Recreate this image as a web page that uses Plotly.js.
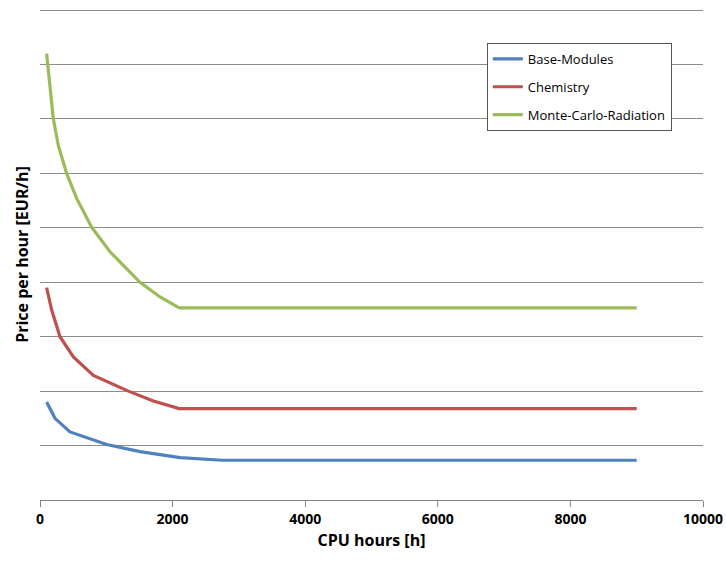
<!DOCTYPE html>
<html>
<head>
<meta charset="utf-8">
<script src="https://cdn.plot.ly/plotly-3.0.1.min.js"></script>
<style>html,body{margin:0;padding:0;background:#fff;}#chart{width:726px;height:565px;}</style>
</head>
<body>
<div id="chart"></div>
<script>
// Data (arbitrary price units, y axis unlabeled)
const seriesNames = ["Base-Modules", "Chemistry", "Monte-Carlo-Radiation"];

const baseX = [100, 226, 453, 1006, 1509, 2113, 2750, 9000];
const baseY = [1.80, 1.50, 1.25, 1.02, 0.89, 0.78, 0.73, 0.73];

const chemX = [100, 176, 302, 503, 805, 1333, 1710, 2100, 9000];
const chemY = [3.90, 3.49, 3.00, 2.63, 2.29, 2.00, 1.82, 1.68, 1.68];

const mcX = [100, 151, 201, 277, 402, 553, 780, 1056, 1509, 1811, 2100, 9000];
const mcY = [8.20, 7.61, 7.00, 6.51, 6.00, 5.54, 5.01, 4.56, 4.00, 3.73, 3.53, 3.53];

const xTicks = [0, 2000, 4000, 6000, 8000, 10000];

const colors = ["#4F81BD", "#C0504D", "#9BBB59"];
const xs = [baseX, chemX, mcX];
const ys = [baseY, chemY, mcY];

const traces = seriesNames.map((n, i) => ({
  type: "scatter",
  mode: "lines",
  name: n,
  legendgroup: "g" + i,
  x: xs[i],
  y: ys[i],
  line: {color: colors[i], width: 3.2, shape: "linear"}
}));

const layout = {
  width: 726,
  height: 565,
  margin: {l: 40, r: 23, t: 9, b: 65},
  paper_bgcolor: "#fff",
  plot_bgcolor: "#fff",
  font: {family: "Open Sans, Liberation Sans, sans-serif", color: "#000"},
  showlegend: true,
  legend: {
    x: 0.674, y: 0.931, xanchor: "left", yanchor: "top",
    bgcolor: "#fff", bordercolor: "#555", borderwidth: 1,
    font: {size: 13, family: "Open Sans, sans-serif", color: "#000"},
    traceorder: "grouped", tracegroupgap: 8, itemwidth: 30
  },
  xaxis: {
    range: [0, 10000],
    tickvals: xTicks,
    ticktext: xTicks.map(String),
    ticks: "outside", ticklen: 6, tickcolor: "#868686", tickwidth: 1,
    showline: true, linecolor: "#868686", linewidth: 1,
    showgrid: false, zeroline: false,
    tickfont: {size: 14, family: "Open Sans, sans-serif", weight: "bold", color: "#000"},
    title: {text: "<b>CPU hours [h]</b>", font: {size: 16, family: "Open Sans, sans-serif", color: "#000"}, standoff: 8}
  },
  yaxis: {
    range: [0, 9.02],
    dtick: 1, tick0: 0,
    showticklabels: false,
    showgrid: true, gridcolor: "#8c8c8c", gridwidth: 1,
    zeroline: false, showline: false, ticks: "",
    title: {text: "<b>Price per hour [EUR/h]</b>", font: {size: 16, family: "Open Sans, sans-serif", color: "#000"}, standoff: 6}
  }
};

Plotly.newPlot("chart", traces, layout, {displayModeBar: false, staticPlot: true});
</script>
</body>
</html>
